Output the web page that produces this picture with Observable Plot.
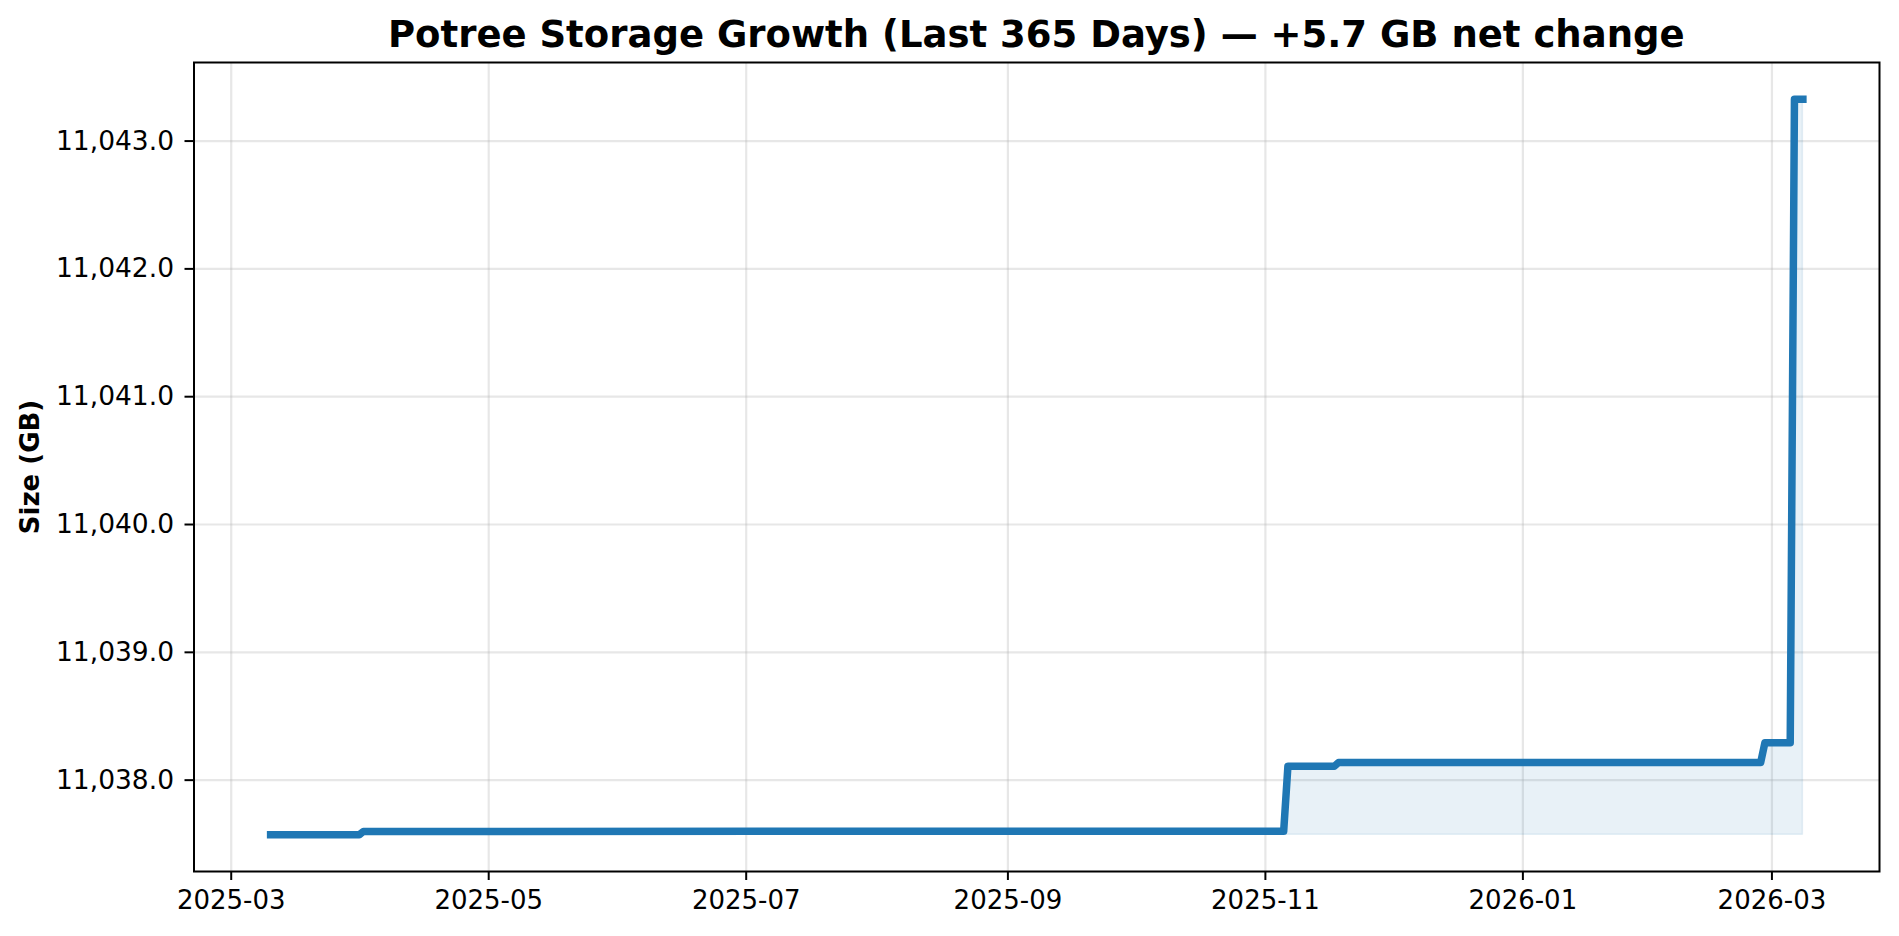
<!DOCTYPE html>
<html>
<head>
<meta charset="utf-8">
<script src="https://cdn.jsdelivr.net/npm/d3@7"></script>
<script src="https://cdn.jsdelivr.net/npm/@observablehq/plot@0.6"></script>
<style>
  html, body { margin: 0; padding: 0; background: #fff; }
  #title {
    box-sizing: border-box; width: 1899px; height: 50px;
    padding: 16px 20px 0 193.5px; line-height: 37px;
    font-family: "DejaVu Sans", sans-serif; font-weight: bold; font-size: 37px;
    text-align: center; color: #000; white-space: nowrap;
  }
  #chart svg { display: block; overflow: visible; }
</style>
</head>
<body>
<div id="title">Potree Storage Growth (Last 365 Days) — +5.7 GB net change</div>
<div id="chart"></div>
<script>
// Data: daily snapshots (change points), size in GB
const dates = [
  "2025-03-10", "2025-03-31", "2025-04-01", "2025-11-05", "2025-11-06",
  "2025-11-17", "2025-11-18", "2026-02-26", "2026-02-27", "2026-03-05",
  "2026-03-06", "2026-03-08"
];
const sizes = [
  11037.573, 11037.573, 11037.599, 11037.600, 11038.109,
  11038.109, 11038.138, 11038.138, 11038.292, 11038.292,
  11043.327, 11043.327
];
const xTicks = ["2025-03-01", "2025-05-01", "2025-07-01", "2025-09-01", "2025-11-01", "2026-01-01", "2026-03-01"];
const yTicks = [11038, 11039, 11040, 11041, 11042, 11043];
const yLabel = "Size (GB)";

const data = dates.map((d, i) => ({date: new Date(d + "T08:00Z"), size: sizes[i]}));
const baseline = d3.min(sizes);

function pad(ext, f) { const s = ext[1] - ext[0]; return [ext[0] - s * f, ext[1] + s * f]; }
const xExt = d3.extent(data, d => +d.date);
const xDom = pad(xExt, 0.05).map(v => new Date(v));
const yDom = pad(d3.extent(sizes), 0.05);

const blue = "#1f77b4";

const chart = Plot.plot({
  width: 1899,
  height: 886,
  marginTop: 12,
  marginBottom: 65,
  marginLeft: 193.5,
  marginRight: 20,
  style: {fontFamily: "'DejaVu Sans', sans-serif", fontSize: "26px", color: "#000", background: "#fff"},
  x: {type: "utc", domain: xDom},
  y: {domain: yDom},
  marks: [
    Plot.gridX(xTicks.map(d => new Date(d + "T00:00Z")), {stroke: "#b0b0b0", strokeOpacity: 0.3, strokeWidth: 2.2}),
    Plot.gridY(yTicks, {stroke: "#b0b0b0", strokeOpacity: 0.3, strokeWidth: 2.2}),
    Plot.areaY(data, {x: "date", y1: () => baseline, y2: "size", fill: blue, fillOpacity: 0.1, stroke: blue, strokeOpacity: 0.1, strokeWidth: 1.5}),
    Plot.line(data, {x: "date", y: "size", stroke: blue, strokeWidth: 7.5, strokeLinecap: "square", strokeLinejoin: "round"}),
    Plot.axisX(xTicks.map(d => new Date(d + "T00:00Z")), {tickFormat: d3.utcFormat("%Y-%m"), tickSize: 9, tickPadding: 10, strokeWidth: 2, label: null, fontSize: 26}),
    Plot.axisY(yTicks, {tickFormat: d3.format(",.1f"), tickSize: 9, tickPadding: 11, strokeWidth: 2, label: null, fontSize: 26.5}),
    Plot.text([yLabel], {frameAnchor: "left", dx: -163.5, rotate: -90, textAnchor: "middle", lineAnchor: "middle", fontWeight: "bold", fontSize: 26, fill: "#000"}),
    Plot.frame({stroke: "#000", strokeWidth: 2})
  ]
});
document.getElementById("chart").appendChild(chart);
</script>
</body>
</html>
